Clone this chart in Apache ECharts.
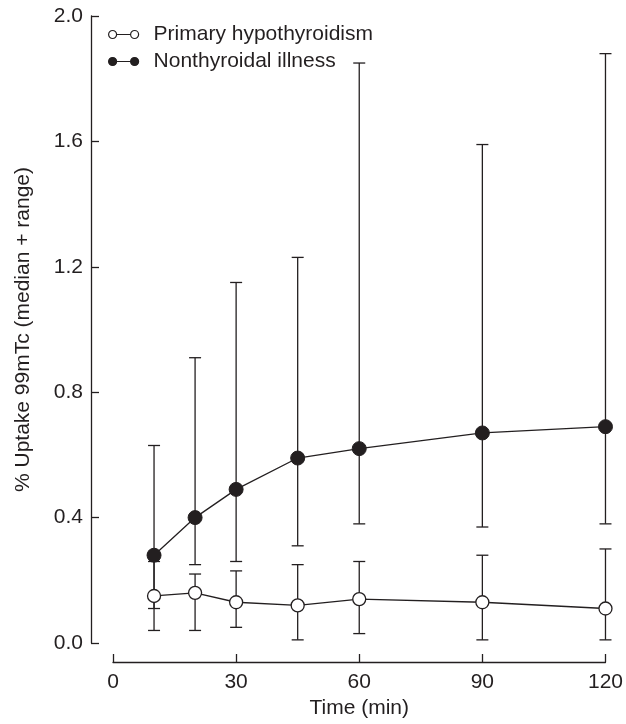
<!DOCTYPE html>
<html>
<head>
<meta charset="utf-8">
<script src="https://cdn.jsdelivr.net/npm/echarts@6/dist/echarts.min.js"></script>
<style>
  html, body { margin: 0; padding: 0; background: #fff; }
  #chart { width: 626px; height: 724px; }
</style>
</head>
<body>
<div id="chart"></div>
<script>
// sampling times (min)
const times = [10, 20, 30, 45, 60, 90, 120]
// primary hypothyroidism: median + range
const hypoMedian = [0.15, 0.16, 0.13, 0.12, 0.14, 0.13, 0.11]
const hypoMin = [0.04, 0.04, 0.05, 0.01, 0.03, 0.01, 0.01]
const hypoMax = [0.26, 0.22, 0.23, 0.25, 0.26, 0.28, 0.30]
// nonthyroidal illness: median + range
const ntiMedian = [0.28, 0.40, 0.49, 0.59, 0.62, 0.67, 0.69]
const ntiMin = [0.11, 0.25, 0.26, 0.31, 0.38, 0.37, 0.38]
const ntiMax = [0.63, 0.91, 1.15, 1.23, 1.85, 1.59, 1.88]

const ink = '#231f20'
const font = 'Liberation Sans, Arial, Helvetica, sans-serif'

// legend icon: o--o
const pairIcon = 'path://M0,4A4,4 0 1,1 8,4A4,4 0 1,1 0,4ZM8,4L22,4M22,4A4,4 0 1,1 30,4A4,4 0 1,1 22,4Z'

function rangeBars(mins, maxs) {
  return times.map((t, i) => [t, mins[i], maxs[i]])
}

// vertical range line with caps
function renderBar(params, api) {
  let x = api.value(0)
  let lo = api.coord([x, api.value(1)])
  let hi = api.coord([x, api.value(2)])
  let w = 6
  let style = { stroke: ink, lineWidth: 1.3 }
  return {
    type: 'group',
    children: [
      { type: 'line', shape: { x1: lo[0], y1: lo[1], x2: hi[0], y2: hi[1] }, style: style },
      { type: 'line', shape: { x1: lo[0] - w, y1: lo[1], x2: lo[0] + w, y2: lo[1] }, style: style },
      { type: 'line', shape: { x1: hi[0] - w, y1: hi[1], x2: hi[0] + w, y2: hi[1] }, style: style }
    ]
  }
}

const myChart = echarts.init(document.getElementById('chart'), null, { renderer: 'canvas' })

const option = {
  animation: false,
  backgroundColor: '#fff',
  textStyle: { fontFamily: font, color: ink },
  grid: { left: 113, right: 20, top: 16, bottom: 77 },
  legend: {
    orient: 'vertical',
    left: 108,
    top: 24,
    padding: 0,
    itemWidth: 30,
    itemHeight: 8,
    itemGap: 6,
    selectedMode: false,
    textStyle: { fontSize: 21, color: ink, fontFamily: font, lineHeight: 21, padding: [0, 0, 0, 10] },
    data: [
      { name: 'Primary hypothyroidism', icon: pairIcon, itemStyle: { color: '#fff', borderColor: ink, borderWidth: 1.2 } },
      { name: 'Nonthyroidal illness', icon: pairIcon, itemStyle: { color: ink, borderColor: ink, borderWidth: 1.2 } }
    ]
  },
  xAxis: {
    type: 'value',
    min: 0,
    max: 120,
    interval: 30,
    offset: 19,
    name: 'Time (min)',
    nameLocation: 'middle',
    nameGap: 36,
    nameTextStyle: { fontSize: 21, color: ink, fontFamily: font },
    axisLine: { onZero: false, lineStyle: { color: ink, width: 1.3 } },
    axisTick: { inside: true, length: 8, lineStyle: { color: ink, width: 1.3 } },
    axisLabel: { fontSize: 21, color: ink, margin: 10, fontFamily: font },
    splitLine: { show: false }
  },
  yAxis: {
    type: 'value',
    min: 0,
    max: 2,
    interval: 0.4,
    offset: 22,
    name: '% Uptake 99mTc (median + range)',
    nameLocation: 'middle',
    nameGap: 57,
    nameTextStyle: { fontSize: 21, color: ink, fontFamily: font },
    axisLine: { show: true, onZero: false, lineStyle: { color: ink, width: 1.3 } },
    axisTick: { show: true, inside: true, length: 8, lineStyle: { color: ink, width: 1.3 } },
    axisLabel: { fontSize: 21, color: ink, margin: 8, fontFamily: font,
      formatter: v => v.toFixed(1) },
    splitLine: { show: false }
  },
  series: [
    {
      name: 'hypoRange',
      type: 'custom',
      renderItem: renderBar,
      encode: { x: 0, y: [1, 2] },
      data: rangeBars(hypoMin, hypoMax),
      z: 1
    },
    {
      name: 'ntiRange',
      type: 'custom',
      renderItem: renderBar,
      encode: { x: 0, y: [1, 2] },
      data: rangeBars(ntiMin, ntiMax),
      z: 1
    },
    {
      name: 'Nonthyroidal illness',
      type: 'line',
      data: times.map((t, i) => [t, ntiMedian[i]]),
      symbol: 'circle',
      symbolSize: 14,
      lineStyle: { color: ink, width: 1.3 },
      itemStyle: { color: ink, borderColor: ink, borderWidth: 1 },
      z: 3
    },
    {
      name: 'Primary hypothyroidism',
      type: 'line',
      data: times.map((t, i) => [t, hypoMedian[i]]),
      symbol: 'circle',
      symbolSize: 13,
      lineStyle: { color: ink, width: 1.3 },
      itemStyle: { color: '#fff', borderColor: ink, borderWidth: 1.3 },
      z: 4
    }
  ]
}

myChart.setOption(option)
window.addEventListener('resize', function () {
  myChart.resize()
})
</script>
</body>
</html>
